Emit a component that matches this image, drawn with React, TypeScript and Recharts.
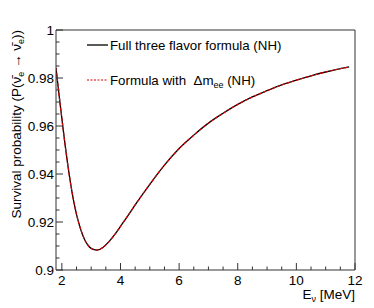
import React from "react";
import { LineChart, Line, XAxis, YAxis, ReferenceLine } from "recharts";

const energies = [1.8, 1.9, 2.0, 2.1, 2.2, 2.3, 2.4, 2.5, 2.6, 2.7, 2.8, 2.9, 3.0, 3.2, 3.4, 3.6, 3.8, 4.0, 4.25, 4.5, 5.0, 5.5, 6.0, 6.5, 7.0, 7.5, 8.0, 8.5, 9.0, 9.5, 10.0, 10.5, 11.0, 11.5, 11.8];
const fullThreeFlavor = [0.9842, 0.9734, 0.9632, 0.9531, 0.944, 0.9359, 0.9289, 0.9232, 0.9186, 0.9149, 0.9121, 0.9102, 0.909, 0.9083, 0.9094, 0.9117, 0.9147, 0.9182, 0.9226, 0.9271, 0.9357, 0.9437, 0.9506, 0.9562, 0.9612, 0.9653, 0.969, 0.9721, 0.9747, 0.9771, 0.9791, 0.9809, 0.9825, 0.9839, 0.9846];
const dmeeFormula = [0.9842, 0.9734, 0.9632, 0.9531, 0.944, 0.9359, 0.9289, 0.9232, 0.9186, 0.9149, 0.9121, 0.9102, 0.909, 0.9083, 0.9094, 0.9117, 0.9147, 0.9182, 0.9226, 0.9271, 0.9357, 0.9437, 0.9506, 0.9562, 0.9612, 0.9653, 0.969, 0.9721, 0.9747, 0.9771, 0.9791, 0.9809, 0.9825, 0.9839, 0.9846];

const xTicks = [2, 2.5, 3, 3.5, 4, 4.5, 5, 5.5, 6, 6.5, 7, 7.5, 8, 8.5, 9, 9.5, 10, 10.5, 11, 11.5, 12];
const xLabels = [2, 4, 6, 8, 10, 12];
const yTicks = [0.9, 0.905, 0.91, 0.915, 0.92, 0.925, 0.93, 0.935, 0.94, 0.945, 0.95, 0.955, 0.96, 0.965, 0.97, 0.975, 0.98, 0.985, 0.99, 0.995, 1];
const yLabels = ["0.9", "0.92", "0.94", "0.96", "0.98", "1"];

const data = energies.map((e, i) => ({ e, full: fullThreeFlavor[i], dmee: dmeeFormula[i] }));

const FONT = "'Liberation Sans', Arial, sans-serif";
const TM = 4;
const AXIS = "#333";

const XTick = (props: any) => {
  const { x, y, payload } = props;
  const ay = y - TM;
  const v = payload.value;
  const major = xLabels.some((l) => Math.abs(l - v) < 1e-6);
  return (
    <g>
      <line x1={x} x2={x} y1={ay} y2={ay - (major ? 7 : 3.5)} stroke={AXIS} strokeWidth={1} />
      {major && (
        <text x={x} y={ay + 15} textAnchor="middle" fontFamily={FONT} fontSize={13.5} fill="#000">
          {String(v)}
        </text>
      )}
    </g>
  );
};

const YTick = (props: any) => {
  const { x, y, payload } = props;
  const ax = x + TM;
  const v = payload.value;
  const label = yLabels.find((l) => Math.abs(parseFloat(l) - v) < 1e-6);
  return (
    <g>
      <line x1={ax} x2={ax + (label ? 7 : 3.5)} y1={y} y2={y} stroke={AXIS} strokeWidth={1} />
      {label && (
        <text x={ax - 2} y={y + 5} textAnchor="end" fontFamily={FONT} fontSize={13.5} fill="#000">
          {label}
        </text>
      )}
    </g>
  );
};

export default function App() {
  return (
    <div style={{ position: "absolute", left: 0, top: 0, width: 374, height: 308, background: "#fff" }}>
      <LineChart width={374} height={308} data={data} margin={{ top: 30, right: 19, bottom: 0, left: 0 }}>
        <XAxis
          dataKey="e"
          type="number"
          domain={[1.8, 12]}
          ticks={xTicks}
          interval={0}
          allowDataOverflow
          height={38}
          tickSize={0}
          tickMargin={TM}
          tick={<XTick />}
          axisLine={{ stroke: AXIS }}
          tickLine={false}
        />
        <YAxis
          type="number"
          domain={[0.9, 1]}
          ticks={yTicks}
          interval={0}
          allowDataOverflow
          width={56}
          tickSize={0}
          tickMargin={TM}
          tick={<YTick />}
          axisLine={{ stroke: AXIS }}
          tickLine={false}
        />
        <ReferenceLine y={1} stroke={AXIS} strokeWidth={1} ifOverflow="visible" />
        <ReferenceLine x={12} stroke={AXIS} strokeWidth={1} ifOverflow="visible" />
        <Line dataKey="full" type="monotone" stroke="#000" strokeWidth={1.3} dot={false} isAnimationActive={false} />
        <Line dataKey="dmee" type="monotone" stroke="#e00000" strokeWidth={1.2} strokeDasharray="3 2" dot={false} isAnimationActive={false} />
      </LineChart>
      <svg width={374} height={308} style={{ position: "absolute", left: 0, top: 0, pointerEvents: "none" }}>
        <line x1={87} x2={108} y1={45} y2={45} stroke="#000" strokeWidth={1.3} />
        <text x={110} y={50} fontFamily={FONT} fontSize={13.3} fill="#000">Full three flavor formula (NH)</text>
        <line x1={87} x2={108} y1={80} y2={80} stroke="#e00000" strokeWidth={1.2} strokeDasharray="2 1.5" />
        <text x={110} y={85} fontFamily={FONT} fontSize={13.3} fill="#000">
          {"Formula with\u00a0 Δm"}
          <tspan fontSize={9} dy={3}>ee</tspan>
          <tspan dy={-3}>{"\u00a0(NH)"}</tspan>
        </text>
        <text x={355} y={299} textAnchor="end" fontFamily={FONT} fontSize={13.5} fill="#000">
          E<tspan fontSize={9} dy={3}>ν</tspan>
          <tspan dy={-3}>{"\u00a0[MeV]"}</tspan>
        </text>
        <text
          x={0}
          y={0}
          transform="translate(21,30) rotate(-90)"
          textAnchor="end"
          fontFamily={FONT}
          fontSize={13.5}
          fill="#000"
        >
          Survival probability (P(ν̄<tspan fontSize={9} dy={3}>e</tspan>
          <tspan dy={-3}>{"\u00a0→\u00a0ν̄"}</tspan>
          <tspan fontSize={9} dy={3}>e</tspan>
          <tspan dy={-3}>))</tspan>
        </text>
      </svg>
    </div>
  );
}
